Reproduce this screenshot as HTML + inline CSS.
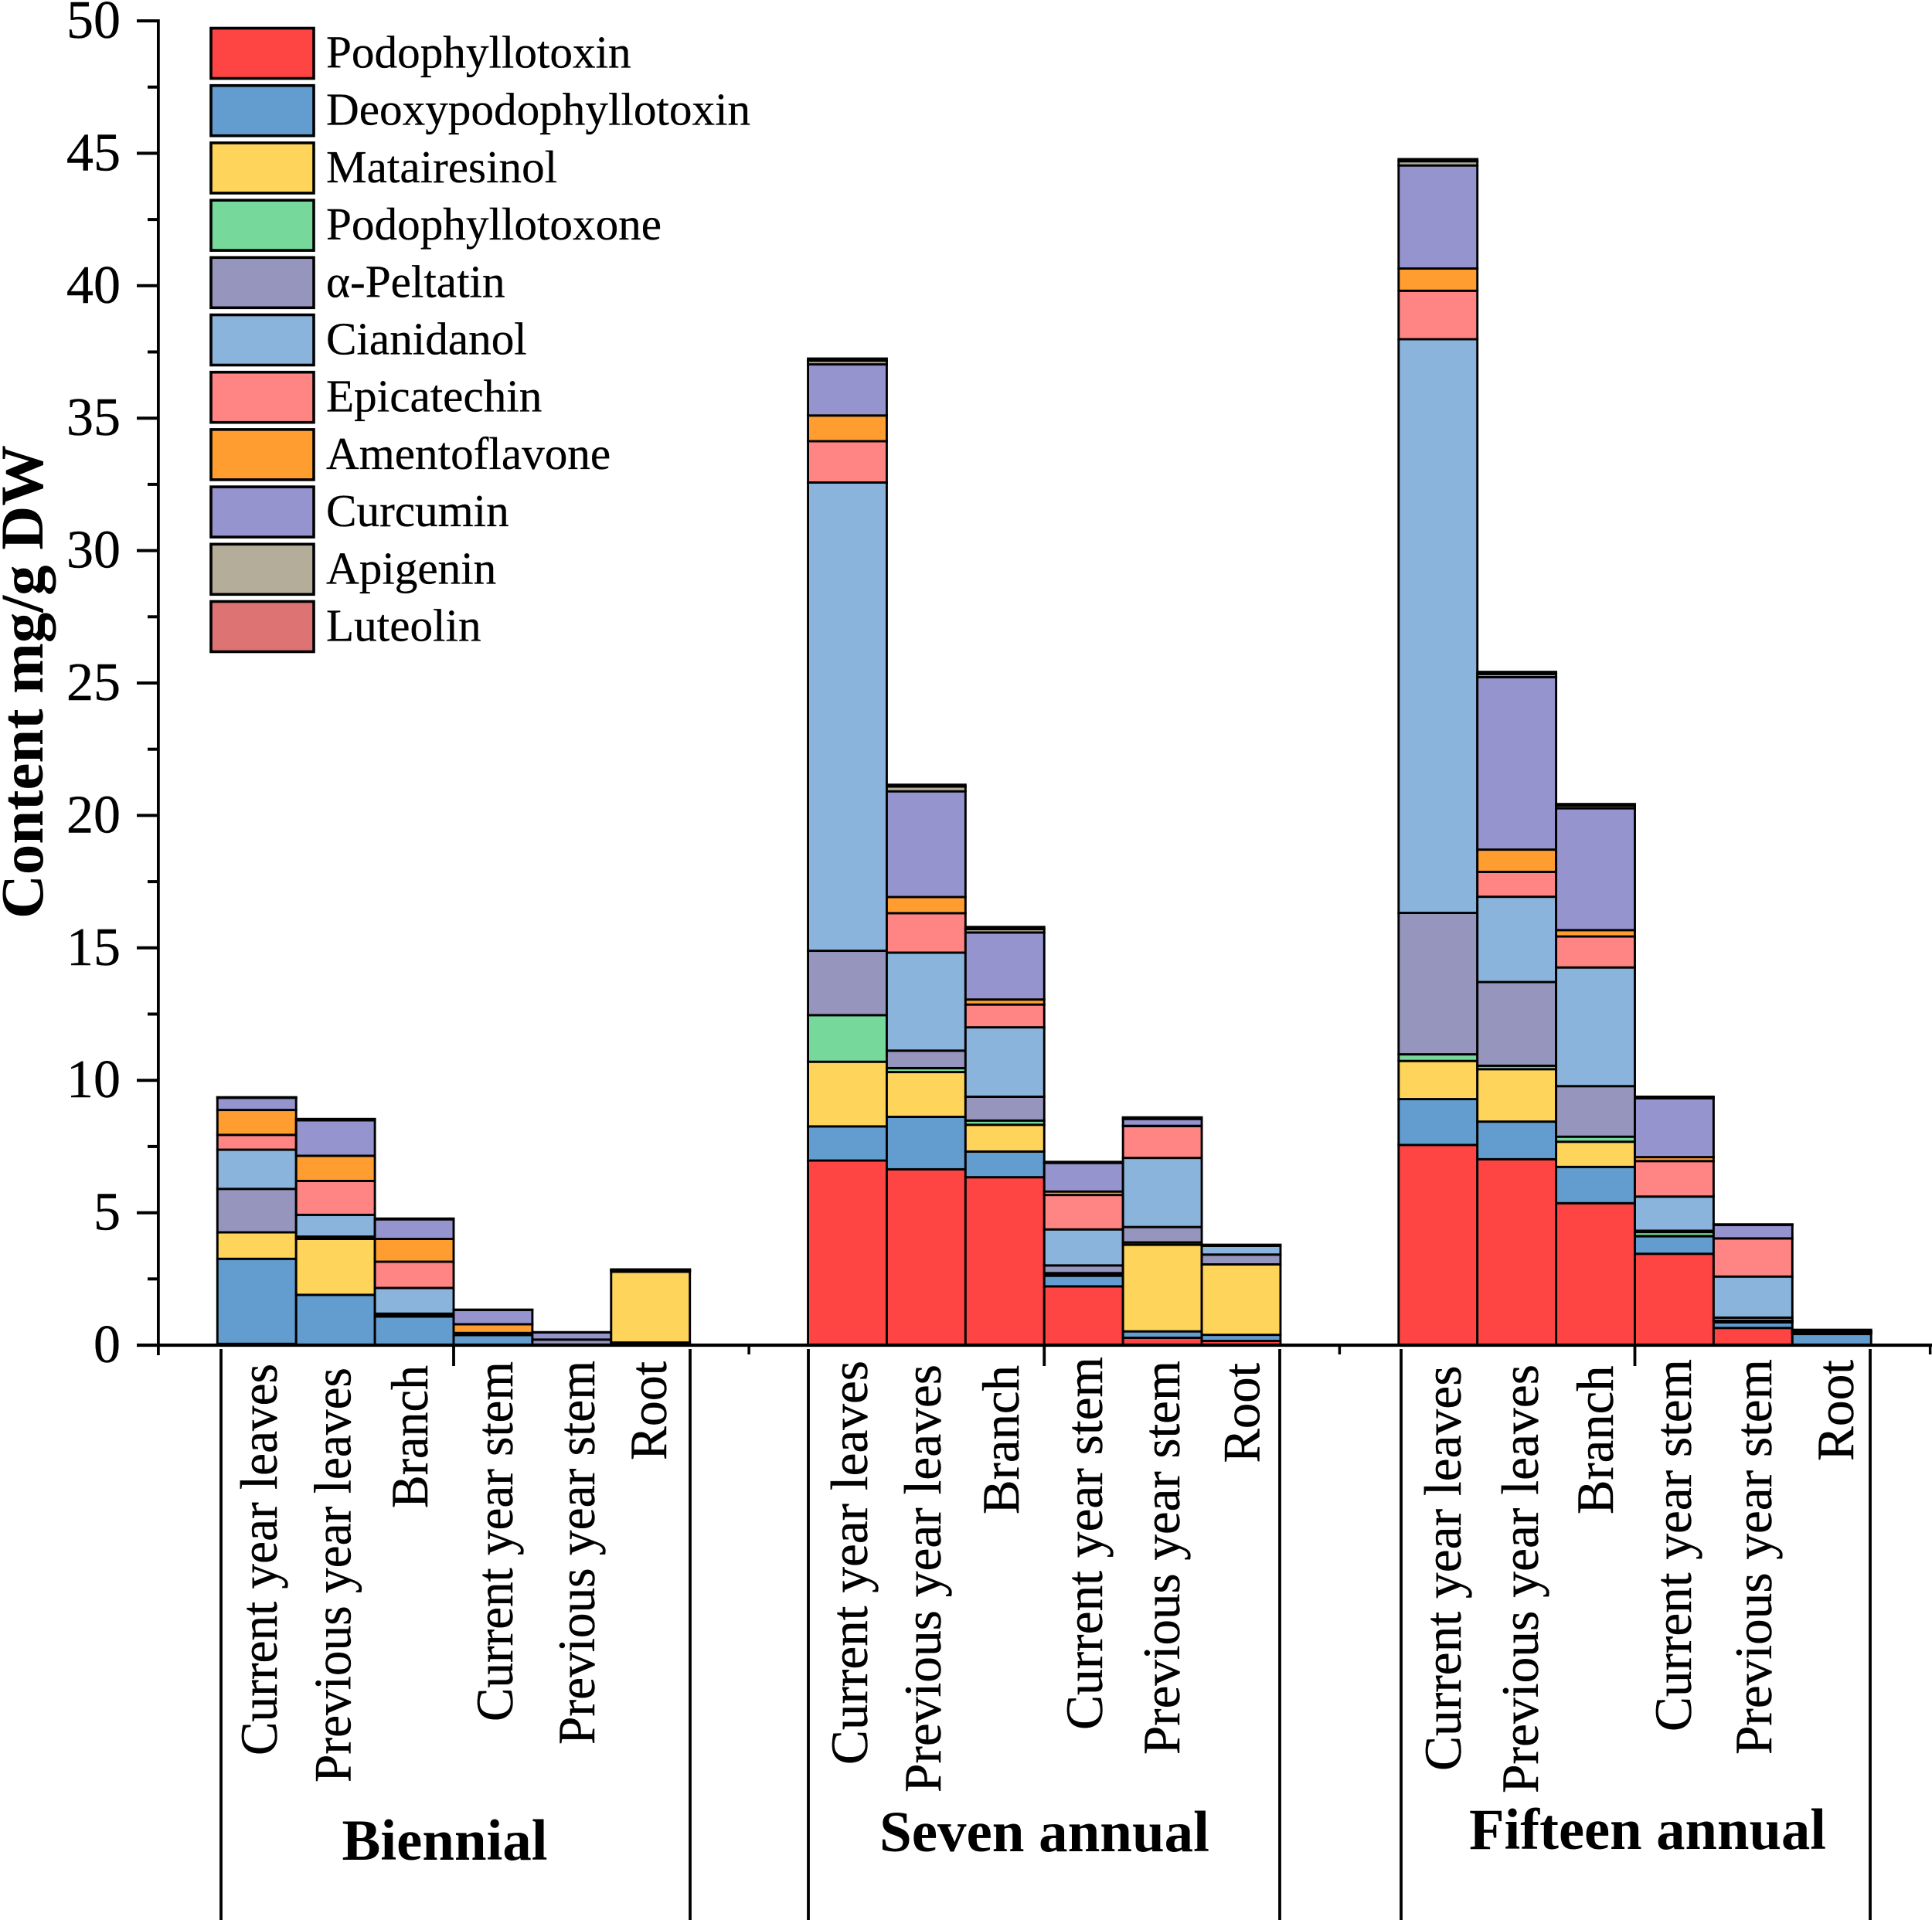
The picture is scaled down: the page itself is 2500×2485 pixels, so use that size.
<!DOCTYPE html>
<html>
<head>
<meta charset="utf-8">
<title>Lignan and flavonoid content stacked bar chart</title>
<style>
html,body{margin:0;padding:0;background:#fff;}
svg{display:block;}
text{font-family:"Liberation Serif","DejaVu Serif",serif;fill:#000;}
</style>
</head>
<body>
<svg id="chart" xmlns="http://www.w3.org/2000/svg" width="2500" height="2485" viewBox="0 0 2500 2485">
<rect x="0" y="0" width="2500" height="2485" fill="#ffffff"/>
<g id="bars"></g>
<g id="axes"></g>

<g stroke="#000" stroke-width="3.8">
<line x1="286" y1="1746" x2="286" y2="2485"/>
<line x1="893" y1="1746" x2="893" y2="2485"/>
<line x1="1046" y1="1746" x2="1046" y2="2485"/>
<line x1="1656" y1="1746" x2="1656" y2="2485"/>
<line x1="1813" y1="1746" x2="1813" y2="2485"/>
<line x1="2420" y1="1746" x2="2420" y2="2485"/>
</g>

<g font-size="59.2" stroke-width="0.3" stroke="#000">
<g><rect x="273" y="36.5" width="133" height="65" fill="#ff4444" stroke="#000" stroke-width="3.6"/><text x="422" y="87.5">Podophyllotoxin</text></g>
<g><rect x="273" y="110.7" width="133" height="65" fill="#639dcf" stroke="#000" stroke-width="3.6"/><text x="422" y="161.7">Deoxypodophyllotoxin</text></g>
<g><rect x="273" y="184.9" width="133" height="65" fill="#ffd45a" stroke="#000" stroke-width="3.6"/><text x="422" y="235.9">Matairesinol</text></g>
<g><rect x="273" y="259.1" width="133" height="65" fill="#76d89a" stroke="#000" stroke-width="3.6"/><text x="422" y="310.1">Podophyllotoxone</text></g>
<g><rect x="273" y="333.3" width="133" height="65" fill="#9695bd" stroke="#000" stroke-width="3.6"/><text x="422" y="384.3">α-Peltatin</text></g>
<g><rect x="273" y="407.5" width="133" height="65" fill="#8bb4dc" stroke="#000" stroke-width="3.6"/><text x="422" y="458.5">Cianidanol</text></g>
<g><rect x="273" y="481.7" width="133" height="65" fill="#ff8585" stroke="#000" stroke-width="3.6"/><text x="422" y="532.7">Epicatechin</text></g>
<g><rect x="273" y="555.9" width="133" height="65" fill="#ff9d30" stroke="#000" stroke-width="3.6"/><text x="422" y="606.9">Amentoflavone</text></g>
<g><rect x="273" y="630.1" width="133" height="65" fill="#9694ce" stroke="#000" stroke-width="3.6"/><text x="422" y="681.1">Curcumin</text></g>
<g><rect x="273" y="704.3" width="133" height="65" fill="#b3ad9a" stroke="#000" stroke-width="3.6"/><text x="422" y="755.3">Apigenin</text></g>
<g><rect x="273" y="778.5" width="133" height="65" fill="#dd7373" stroke="#000" stroke-width="3.6"/><text x="422" y="829.5">Luteolin</text></g>
</g>

<text transform="translate(55,1189) rotate(-90)" font-size="78.6" font-weight="bold" textLength="613" lengthAdjust="spacingAndGlyphs">Content mg/g DW</text>

<g font-size="68" stroke="#000" stroke-width="0.4">
<text transform="translate(358,2272) rotate(-90)" textLength="507" lengthAdjust="spacingAndGlyphs">Current year leaves</text>
<text transform="translate(453.6,2307) rotate(-90)" textLength="537" lengthAdjust="spacingAndGlyphs">Previous year leaves</text>
<text transform="translate(553,1952) rotate(-90)" textLength="185" lengthAdjust="spacingAndGlyphs">Branch</text>
<text transform="translate(663,2228) rotate(-90)" textLength="466" lengthAdjust="spacingAndGlyphs">Current year stem</text>
<text transform="translate(769,2258) rotate(-90)" textLength="497" lengthAdjust="spacingAndGlyphs">Previous year stem</text>
<text transform="translate(862,1890) rotate(-90)" textLength="128" lengthAdjust="spacingAndGlyphs">Root</text>

<text transform="translate(1122,2284) rotate(-90)" textLength="523" lengthAdjust="spacingAndGlyphs">Current year leaves</text>
<text transform="translate(1217,2320) rotate(-90)" textLength="554" lengthAdjust="spacingAndGlyphs">Previous year leaves</text>
<text transform="translate(1318,1960) rotate(-90)" textLength="193" lengthAdjust="spacingAndGlyphs">Branch</text>
<text transform="translate(1426,2239) rotate(-90)" textLength="483" lengthAdjust="spacingAndGlyphs">Current year stem</text>
<text transform="translate(1526,2271) rotate(-90)" textLength="510" lengthAdjust="spacingAndGlyphs">Previous year stem</text>
<text transform="translate(1629.5,1893.5) rotate(-90)" textLength="129.5" lengthAdjust="spacingAndGlyphs">Root</text>

<text transform="translate(1890,2292) rotate(-90)" textLength="524.5" lengthAdjust="spacingAndGlyphs">Current year leaves</text>
<text transform="translate(1990,2321) rotate(-90)" textLength="555" lengthAdjust="spacingAndGlyphs">Previous year leaves</text>
<text transform="translate(2087,1960) rotate(-90)" textLength="192.5" lengthAdjust="spacingAndGlyphs">Branch</text>
<text transform="translate(2188,2241) rotate(-90)" textLength="482" lengthAdjust="spacingAndGlyphs">Current year stem</text>
<text transform="translate(2292,2271) rotate(-90)" textLength="512" lengthAdjust="spacingAndGlyphs">Previous year stem</text>
<text transform="translate(2398,1891) rotate(-90)" textLength="131" lengthAdjust="spacingAndGlyphs">Root</text>
</g>

<g font-size="75" font-weight="bold">
<text x="442.5" y="2407" textLength="266" lengthAdjust="spacingAndGlyphs">Biennial</text>
<text x="1138" y="2396" textLength="427" lengthAdjust="spacingAndGlyphs">Seven annual</text>
<text x="1901" y="2393" textLength="462" lengthAdjust="spacingAndGlyphs">Fifteen annual</text>
</g>
</svg>

<script>
var seriesKeys = ['podophyllotoxin', 'deoxypodophyllotoxin', 'matairesinol', 'podophyllotoxone', 'alpha-peltatin', 'cianidanol', 'epicatechin', 'amentoflavone', 'curcumin', 'apigenin', 'luteolin'];
var categories = ['Current year leaves', 'Previous year leaves', 'Branch', 'Current year stem', 'Previous year stem', 'Root'];
var groups = ['Biennial', 'Seven annual', 'Fifteen annual'];
var yTickLabels = [0, 5, 10, 15, 20, 25, 30, 35, 40, 45, 50];

/* one value per bar: 6 Biennial, 6 Seven annual, 6 Fifteen annual */
var podophyllotoxin      = [0.05, 0, 0, 0, 0, 0,             6.97, 6.64, 6.34, 2.22, 0.28, 0.16,   7.56, 7.02, 5.36, 3.45, 0.65, 0];
var deoxypodophyllotoxin = [3.21, 1.90, 1.08, 0.38, 0.02, 0.10,  1.29, 1.98, 0.97, 0.40, 0.24, 0.23,   1.73, 1.42, 1.37, 0.66, 0.21, 0.42];
var matairesinol         = [1.00, 2.11, 0.03, 0.04, 0, 2.67,  2.44, 1.69, 1.01, 0.06, 3.27, 2.66,   1.44, 1.98, 0.95, 0.01, 0.04, 0.02];
var podophyllotoxone     = [0, 0.03, 0, 0, 0, 0,             1.76, 0.15, 0.16, 0.04, 0.09, 0,      0.25, 0.13, 0.19, 0.15, 0.02, 0];
var alphaPeltatin        = [1.64, 0.06, 0.08, 0.02, 0.19, 0.02,  2.43, 0.66, 0.90, 0.29, 0.58, 0.37,   5.34, 3.16, 1.91, 0.05, 0.12, 0.02];
var cianidanol           = [1.48, 0.82, 0.97, 0.02, 0, 0.02,  17.68, 3.70, 2.62, 1.36, 2.61, 0.33,  21.66, 3.22, 4.48, 1.29, 1.55, 0.02];
var epicatechin          = [0.56, 1.28, 0.99, 0, 0, 0.02,     1.56, 1.49, 0.86, 1.30, 1.20, 0.01,   1.83, 0.94, 1.17, 1.34, 1.44, 0.02];
var amentoflavone        = [0.94, 0.95, 0.86, 0.33, 0, 0,     0.97, 0.61, 0.19, 0.13, 0.01, 0.01,   0.84, 0.84, 0.24, 0.15, 0, 0.01];
var curcumin             = [0.46, 1.34, 0.74, 0.54, 0.27, 0.02,  1.93, 3.99, 2.53, 1.08, 0.26, 0.01,   3.89, 6.51, 4.60, 2.22, 0.51, 0.02];
var apigenin             = [0.01, 0.03, 0.02, 0.01, 0.01, 0.01,  0.14, 0.18, 0.13, 0.02, 0.03, 0.01,   0.16, 0.12, 0.10, 0.03, 0.01, 0.02];
var luteolin             = [0.01, 0.02, 0.01, 0, 0, 0,        0.08, 0.07, 0.08, 0.02, 0.03, 0,      0.08, 0.08, 0.06, 0.03, 0.01, 0.03];

var seriesValues = [podophyllotoxin, deoxypodophyllotoxin, matairesinol, podophyllotoxone, alphaPeltatin, cianidanol, epicatechin, amentoflavone, curcumin, apigenin, luteolin];
var seriesColors = ['#ff4444', '#639dcf', '#ffd45a', '#76d89a', '#9695bd', '#8bb4dc', '#ff8585', '#ff9d30', '#9694ce', '#b3ad9a', '#dd7373'];

var NS = 'http://www.w3.org/2000/svg';
var barWidth = 101.9;
var firstBarLeft = 281.3;
var groupStep = 7.5;

function yScale(v) {
  return 1741 - v * 34.28;
}
function barLeft(groupIndex, catIndex) {
  return firstBarLeft + (groupIndex * groupStep + catIndex) * barWidth;
}
function groupCenter(groupIndex) {
  return barLeft(groupIndex, 3);
}
function boundary(groupIndex) {
  return groupCenter(groupIndex) - groupStep * barWidth / 2;
}
function makeLine(x1, y1, x2, y2, w) {
  var l = document.createElementNS(NS, 'line');
  l.setAttribute('x1', x1);
  l.setAttribute('y1', y1);
  l.setAttribute('x2', x2);
  l.setAttribute('y2', y2);
  l.setAttribute('stroke', '#000');
  l.setAttribute('stroke-width', w);
  return l;
}

function drawBars() {
  var barsG = document.getElementById('bars');
  var barCount = groups.length * categories.length;
  for (var b = 0; b < barCount; b++) {
    var groupIdx = Math.floor(b / categories.length);
    var catIdx = b % categories.length;
    var cum = 0;
    for (var s = 0; s < seriesValues.length; s++) {
      var val = seriesValues[s][b];
      var segTop = yScale(cum + val);
      var segBottom = yScale(cum);
      var seg = document.createElementNS(NS, 'rect');
      
      
      seg.setAttribute('x', barLeft(groupIdx, catIdx));
      seg.setAttribute('y', segTop);
      seg.setAttribute('width', barWidth);
      seg.setAttribute('height', Math.max(segBottom - segTop, 0));
      seg.setAttribute('fill', seriesColors[s]);
      seg.setAttribute('stroke', '#000');
      seg.setAttribute('stroke-width', '2.9');
      barsG.appendChild(seg);
      cum += val;
    }
  }
}

function drawAxes() {
  var axesG = document.getElementById('axes');
  var yAxisX = boundary(0);

  var yLine = makeLine(yAxisX, yScale(50) - 2, yAxisX, 1754, 3.8);
  
  
  axesG.appendChild(yLine);

  var xLine = makeLine(177, yScale(0), 2500, yScale(0), 4.2);
  
  
  axesG.appendChild(xLine);

  for (var i = 0; i < yTickLabels.length; i++) {
    var tickVal = yTickLabels[i];
    var tickY = yScale(tickVal);
    var major = makeLine(177, tickY, yAxisX, tickY, 4);
    
    
    axesG.appendChild(major);
    if (i < yTickLabels.length - 1) {
      var minorY = yScale((tickVal + yTickLabels[i + 1]) / 2);
      var minor = makeLine(191, minorY, yAxisX, minorY, 4);
      
      
      axesG.appendChild(minor);
    }
    var lbl = document.createElementNS(NS, 'text');
    
    
    lbl.setAttribute('x', 156);
    lbl.setAttribute('y', tickY + 22);
    lbl.setAttribute('text-anchor', 'end');
    lbl.setAttribute('font-size', '70');
    lbl.setAttribute('stroke', '#000');
    lbl.setAttribute('stroke-width', '0.4');
    lbl.textContent = String(tickVal);
    axesG.appendChild(lbl);
  }

  for (var gi = 0; gi < groups.length; gi++) {
    var small = makeLine(boundary(gi + 1), yScale(0), boundary(gi + 1), 1753, 3.5);
    
    
    axesG.appendChild(small);

    var longTick = makeLine(groupCenter(gi), yScale(0), groupCenter(gi), 1768, 3.8);
    
    
    axesG.appendChild(longTick);
  }
}

drawBars();
drawAxes();
</script>
</body>
</html>
